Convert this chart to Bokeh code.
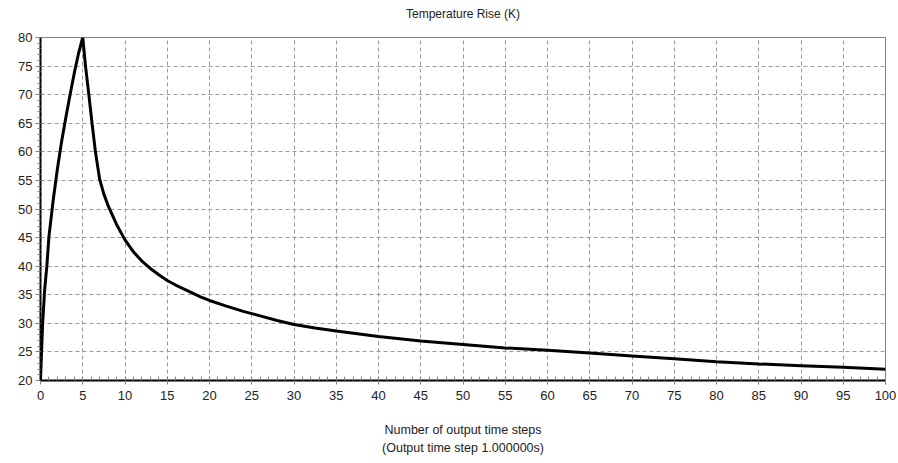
from bokeh.plotting import figure
from bokeh.models import Range1d, SingleIntervalTicker, LinearAxis, FixedTicker
from bokeh.embed import file_html
from bokeh.resources import INLINE

# Data
steps = [0, 0.25, 0.5, 0.75, 1, 1.5, 2, 2.5, 3, 3.5, 4, 4.5, 5,
         5.33, 5.72, 6.1, 6.5, 7, 7.5, 8, 9, 10, 11, 12, 13, 14, 15,
         16, 17, 18, 19, 20, 22, 24, 26, 28, 30, 32.5, 35, 40, 45, 50, 55,
         60, 65, 70, 75, 80, 85, 90, 95, 100]
temp_rise = [20, 30, 36, 40, 45.2, 51.5, 57, 61.8, 66, 70, 73.8, 77.2, 80,
             75, 70, 65, 60, 55.2, 52.6, 50.6, 47.3, 44.6, 42.5, 40.9, 39.6, 38.5, 37.5,
             36.7, 36.0, 35.3, 34.6, 34.0, 33.0, 32.1, 31.3, 30.5, 29.8, 29.2, 28.65, 27.7, 26.9, 26.3, 25.7,
             25.3, 24.8, 24.3, 23.8, 23.3, 22.9, 22.6, 22.3, 21.95]

title_text = "Temperature Rise (K)"
x_label = "Number of output time steps\n(Output time step 1.000000s)"

FONT = "Liberation Sans"

p = figure(width=898, height=463, output_backend="svg", toolbar_location=None,
           x_range=Range1d(0, 100), y_range=Range1d(20, 80),
           min_border_left=40, min_border_right=13, min_border_top=37,
           min_border_bottom=83)

xa = p.below[0]
ya = p.left[0]

# Title drawn as the label of a bare axis above the frame
top_axis = LinearAxis(ticker=FixedTicker(ticks=[]), axis_line_color=None,
                      major_tick_line_color=None, minor_tick_line_color=None,
                      major_label_text_font_size="0px",
                      axis_label=title_text, axis_label_text_font=FONT,
                      axis_label_text_font_size="12px",
                      axis_label_text_font_style="normal",
                      axis_label_text_color="#222222",
                      axis_label_standoff=17)
p.add_layout(top_axis, "above")

p.line(steps, temp_rise, line_color="black", line_width=3)

p.outline_line_color = "#808080"
p.outline_line_width = 1
p.background_fill_color = "white"
p.border_fill_color = "white"

x_ticker = SingleIntervalTicker(interval=5, num_minor_ticks=5)
y_ticker = SingleIntervalTicker(interval=5, num_minor_ticks=5)

# grid
p.xgrid.ticker = x_ticker
p.ygrid.ticker = y_ticker
for g in (p.xgrid, p.ygrid):
    g.grid_line_color = "#999999"
    g.grid_line_dash = "4 3"
    g.grid_line_width = 1

# x axis
xa.ticker = x_ticker
xa.axis_line_color = "black"
xa.axis_line_width = 2
xa.major_tick_line_color = "#808080"
xa.major_tick_in = 0
xa.major_tick_out = 4
xa.minor_tick_line_color = "#808080"
xa.minor_tick_in = 4
xa.minor_tick_out = 0
xa.major_label_text_font = FONT
xa.major_label_text_font_size = "13px"
xa.major_label_text_color = "#222222"
xa.major_label_standoff = 6
xa.axis_label = x_label
xa.axis_label_text_font = FONT
xa.axis_label_text_font_size = "12.5px"
xa.axis_label_text_font_style = "normal"
xa.axis_label_text_color = "#222222"
xa.axis_label_text_line_height = 1.35
xa.axis_label_standoff = 20

# y axis
ya.ticker = y_ticker
ya.axis_line_color = "black"
ya.axis_line_width = 2
ya.major_tick_line_color = "#808080"
ya.major_tick_in = 0
ya.major_tick_out = 5
ya.minor_tick_line_color = "#808080"
ya.minor_tick_in = 0
ya.minor_tick_out = 3
ya.major_label_text_font = FONT
ya.major_label_text_font_size = "13px"
ya.major_label_text_color = "#222222"
ya.major_label_standoff = 3

open("out.html", "w").write(file_html(p, INLINE))
